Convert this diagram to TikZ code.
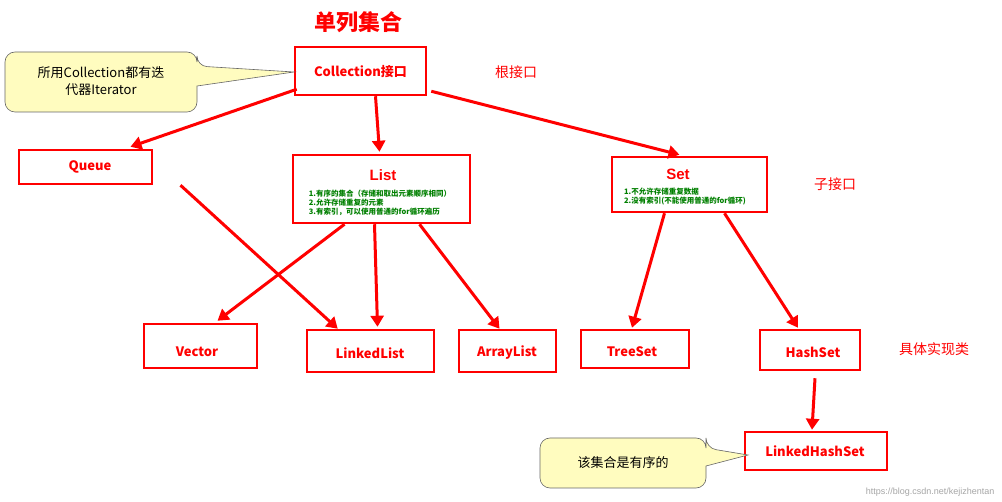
\documentclass[tikz,border=0pt]{standalone}
\usepackage{fontspec}
\setmainfont{Liberation Sans}
\newfontfamily\cjk{Noto Sans CJK SC}
\usetikzlibrary{calc,arrows.meta}
\begin{document}
\begin{tikzpicture}[x=1pt,y=-1pt,
  box/.style={draw=red,line width=2.5pt,fill=white,inner sep=0pt},
  lbl/.style={text=red,font=\cjk\bfseries\fontsize{13}{15}\selectfont},
  arr/.style={draw=red,line width=3pt,-{Triangle[length=11pt,width=13pt]}},
  note/.style={text=green!50!black,font=\cjk\bfseries\fontsize{7.5}{9}\selectfont,align=left},
  yel/.style={draw=black!60,fill=yellow!25,rounded corners=10pt,line width=0.6pt}]
\useasboundingbox (0,0) rectangle (1002,502);
\fill[white] (0,0) rectangle (1002,502);
% boxes
\node[box,minimum width=131pt,minimum height=48pt] (coll) at (360.5,71) {};
\node[lbl] at (360.5,72) {Collection接口};
\node[box,minimum width=133pt,minimum height=34pt] (queue) at (85.5,167) {};
\node[lbl] at (90,167) {Queue};
\node[box,minimum width=177pt,minimum height=68pt] (list) at (381.5,189) {};
\node[lbl,font=\bfseries\fontsize{15}{17}\selectfont] at (383,175) {List};
\node[note] at (380,203) {1.有序的集合（存储和取出元素顺序相同）\\2.允许存储重复的元素\\3.有索引，可以使用普通的for循环遍历};
\node[box,minimum width=155pt,minimum height=55pt] (set) at (689.5,184.5) {};
\node[lbl,font=\bfseries\fontsize{15}{17}\selectfont] at (678,174) {Set};
\node[note] at (685,197) {1.不允许存储重复数据\\2.没有索引(不能使用普通的for循环)};
\node[box,minimum width=113pt,minimum height=44pt] (vec) at (200.5,346) {};
\node[lbl] at (197,352) {Vector};
\node[box,minimum width=127pt,minimum height=42pt] (ll) at (370.5,351) {};
\node[lbl] at (370,353) {LinkedList};
\node[box,minimum width=97pt,minimum height=42pt] (al) at (507.5,351) {};
\node[lbl] at (507,353) {ArrayList};
\node[box,minimum width=108pt,minimum height=38pt] (ts) at (635,349) {};
\node[lbl] at (632,352) {TreeSet};
\node[box,minimum width=100pt,minimum height=40pt] (hs) at (810,350) {};
\node[lbl] at (813,352) {HashSet};
\node[box,minimum width=142pt,minimum height=38pt] (lhs) at (816,451) {};
\node[lbl] at (815,451) {LinkedHashSet};
% labels
\node[text=red,font=\cjk\bfseries\fontsize{22}{24}\selectfont] (title) at (358,22) {单列集合};
\node[text=red,font=\cjk\fontsize{14}{16}\selectfont] (r1) at (516,72) {根接口};
\node[text=red,font=\cjk\fontsize{14}{16}\selectfont] (r2) at (835,184) {子接口};
\node[text=red,font=\cjk\fontsize{14}{16}\selectfont] (r3) at (934,349) {具体实现类};
% callouts
\draw[yel] (5,52) -- (197,52) -- (197,66) [sharp corners] -- (294,72) -- (197,86) [rounded corners=10pt] -- (197,112) -- (5,112) -- cycle;
\node[align=center,font=\cjk\fontsize{13}{17}\selectfont] (n1) at (101,81) {所用Collection都有迭\\代器Iterator};
\draw[yel] (540,438) -- (706,438) -- (706,448) [sharp corners] -- (748,455) -- (706,466) [rounded corners=10pt] -- (706,488) -- (540,488) -- cycle;
\node[font=\cjk\fontsize{13}{15}\selectfont] (n2) at (623,463) {该集合是有序的};
% arrows
\draw[arr] ($(coll.south west)+(3,-7)$) -- ($(queue.north)+(45,-2)$);
\draw[arr] ($(coll.south)+(15,0)$) -- ($(list.north)+(-2,-2)$);
\draw[arr] ($(coll.south east)+(4,-5)$) -- ($(set.north)+(-10,-1)$);
\draw[arr] ($(queue.south)+(95,0)$) -- ($(ll.north west)+(32,0)$);
\draw[arr] ($(list.south)+(-37,0)$) -- ($(vec.north)+(17,-2)$);
\draw[arr] ($(list.south)+(-7,0)$) -- ($(ll.north)+(7,-2)$);
\draw[arr] ($(list.south)+(38,0)$) -- ($(al.north)+(-8,0)$);
\draw[arr] ($(set.south)+(-25,0)$) -- ($(ts.north)+(-3,-1)$);
\draw[arr] ($(set.south)+(35,0)$) -- ($(hs.north)+(-12,-1)$);
\draw[arr] ($(hs.south)+(5,7)$) -- ($(lhs.north)+(-4,-1)$);
\node[text=black!35,font=\fontsize{9}{11}\selectfont,anchor=south east] (wm) at (998,500) {https://blog.csdn.net/kejizhentan};
\end{tikzpicture}
\end{document}
